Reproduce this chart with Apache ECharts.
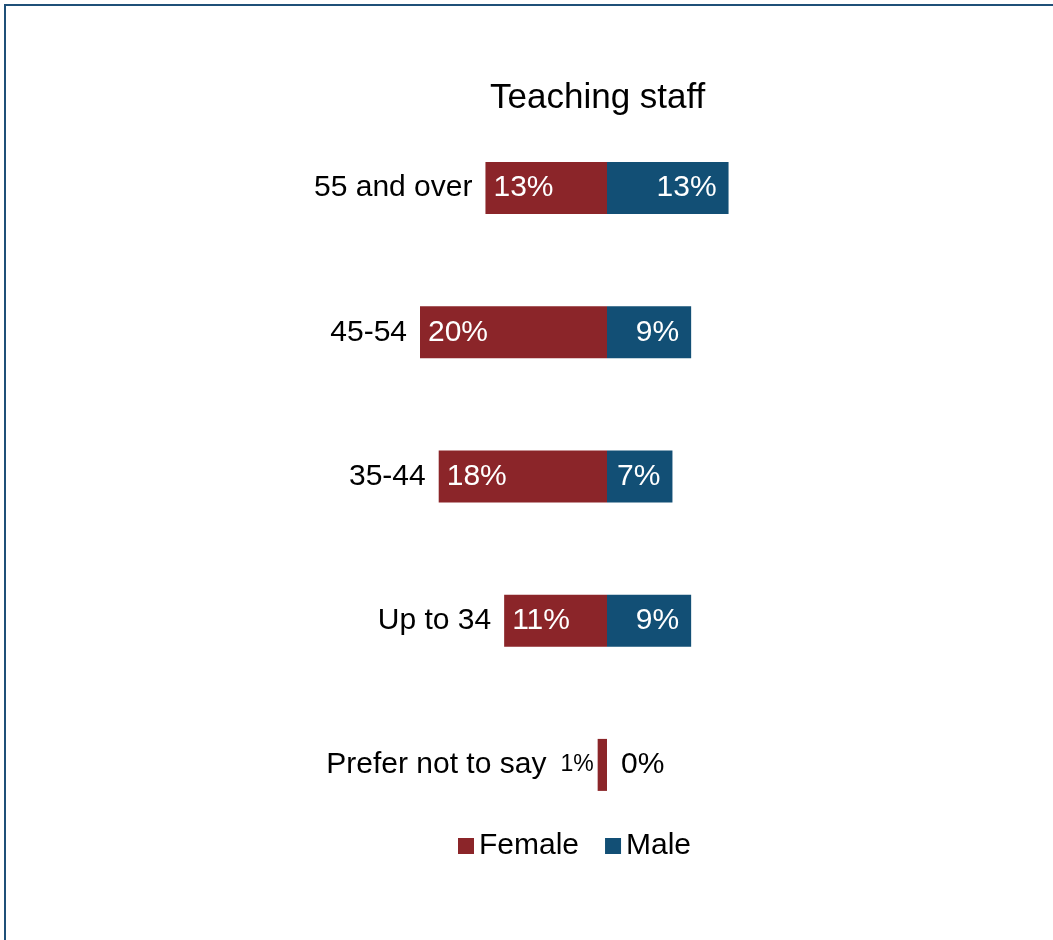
<!DOCTYPE html>
<html>
<head>
<meta charset="utf-8">
<script src="https://cdn.jsdelivr.net/npm/echarts@6/dist/echarts.min.js"></script>
<style>
html,body{margin:0;padding:0;background:#fff;overflow:hidden;}
#frame{position:absolute;left:4px;top:4px;width:1100px;height:1000px;border:2px solid #1F5078;box-sizing:border-box;}
#chart{position:absolute;left:0;top:0;width:1053px;height:940px;}
</style>
</head>
<body>
<div id="frame"></div>
<div id="chart"></div>
<script>
const categories = ['55 and over', '45-54', '35-44', 'Up to 34', 'Prefer not to say'];
const female = [13, 20, 18, 11, 1];
const male = [13, 9, 7, 9, 0];
const titleText = 'Teaching staff';
const seriesNames = ['Female', 'Male'];

const FONT = "'Liberation Sans', Arial, sans-serif";
const FEMALE_C = '#8B2529';
const MALE_C = '#124F75';
const SMALL = 3; // bars narrower than this get their label outside

const chart = echarts.init(document.getElementById('chart'), null, {renderer: 'canvas'});

const option = {
  animation: false,
  backgroundColor: 'transparent',
  textStyle: {fontFamily: FONT, color: '#000'},
  title: {
    text: titleText,
    left: 490,
    top: 81,
    padding: 0,
    textStyle: {fontFamily: FONT, fontSize: 35, fontWeight: 'normal', color: '#000'}
  },
  legend: {
    data: seriesNames,
    left: 458,
    top: 831,
    padding: 0,
    icon: 'rect',
    itemWidth: 16,
    itemHeight: 16,
    itemGap: 26,
    textStyle: {fontFamily: FONT, fontSize: 30, color: '#000'}
  },
  grid: {left: 326.5, right: 165.5, top: 116, bottom: 103, containLabel: false},
  xAxis: {type: 'value', min: -30, max: 30, show: false},
  yAxis: {type: 'category', data: categories, inverse: true, show: false},
  series: [
    {
      name: 'Female',
      type: 'bar',
      data: female.map(v => -v),
      barWidth: 52,
      barGap: '-100%',
      itemStyle: {color: FEMALE_C},
      label: {
        show: true,
        position: 'insideLeft',
        distance: 8,
        fontFamily: FONT,
        fontSize: 30,
        color: '#fff',
        formatter: p => (Math.abs(p.value) < SMALL ? '' : Math.abs(p.value) + '%')
      }
    },
    {
      name: 'Male',
      type: 'bar',
      data: male.map(v => v === 0 ? {value: v, label: {position: 'right', distance: 14, color: '#000'}} : v),
      barWidth: 52,
      barGap: '-100%',
      itemStyle: {color: MALE_C},
      label: {
        show: true,
        position: 'insideRight',
        distance: 12,
        fontFamily: FONT,
        fontSize: 30,
        color: '#fff',
        formatter: p => p.value + '%'
      }
    },
    {
      name: 'labels',
      type: 'scatter',
      silent: true,
      symbolSize: 0,
      itemStyle: {color: '#000', opacity: 1},
      data: categories.map((c, i) => female[i] < SMALL
        ? {value: [-female[i], c], label: {distance: 4}}
        : [-female[i], c]),
      label: {
        show: true,
        position: 'left',
        distance: 13,
        color: '#000',
        fontFamily: FONT,
        fontSize: 30,
        formatter: p => {
          const i = p.dataIndex;
          if (female[i] < SMALL) return '{c|' + categories[i] + '}{s|' + female[i] + '%}';
          return '{c|' + categories[i] + '}';
        },
        rich: {
          c: {fontFamily: FONT, fontSize: 30, color: '#000'},
          s: {fontFamily: FONT, fontSize: 23, color: '#000', padding: [0, 0, 0, 14]}
        }
      }
    }
  ]
};
chart.setOption(option);
</script>
</body>
</html>
